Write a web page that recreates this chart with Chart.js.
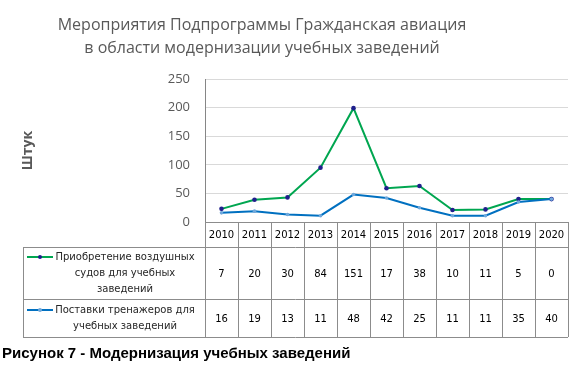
<!DOCTYPE html>
<html>
<head>
<meta charset="utf-8">
<script src="https://cdn.jsdelivr.net/npm/chart.js@4.4.0/dist/chart.umd.min.js"></script>
<style>
  html, body { margin: 0; padding: 0; background: #fff; }
  #wrap { width: 584px; height: 373px; }
</style>
</head>
<body>
<div id="wrap"><canvas id="chart" width="584" height="373"></canvas></div>
<script>
// данные
const years = ["2010", "2011", "2012", "2013", "2014", "2015", "2016", "2017", "2018", "2019", "2020"];
const aircraft = [7, 20, 30, 84, 151, 17, 38, 10, 11, 5, 0];
const simulators = [16, 19, 13, 11, 48, 42, 25, 11, 11, 35, 40];
const seriesNames = [
  "Приобретение воздушных судов для учебных заведений",
  "Поставки тренажеров для учебных заведений",
];
const yTicks = [0, 50, 100, 150, 200, 250];
const titleLines = [
  "Мероприятия Подпрограммы Гражданская авиация",
  "в области модернизации учебных заведений",
];
const caption = "Рисунок 7 - Модернизация учебных заведений";

const GREEN = "#00a650";
const BLUE = "#0070c0";
const GRID_LINE = "#8c8c8c";

function wrapText(ctx, text, maxW) {
  const words = text.split(" ");
  const lines = [];
  let cur = "";
  words.forEach(function (w) {
    const test = cur ? cur + " " + w : w;
    if (ctx.measureText(test).width > maxW && cur) {
      lines.push(cur);
      cur = w;
    } else {
      cur = test;
    }
  });
  if (cur) lines.push(cur);
  return lines;
}

// заголовок, таблица данных и подпись
const dataTable = {
  id: "dataTable",
  afterDraw(chart) {
    const ctx = chart.ctx;
    const x = chart.scales.x;
    const area = chart.chartArea;
    const step = x.getPixelForValue(1) - x.getPixelForValue(0);
    const left = 23;
    const colL = area.left;
    const colR = x.getPixelForValue(years.length - 1) + step / 2;
    const rows = [area.bottom, area.bottom + 25, area.bottom + 77, area.bottom + 115];
    const rowSeries = [
      { name: seriesNames[0], values: aircraft, color: GREEN, mark: "#1f1f8c" },
      { name: seriesNames[1], values: simulators, color: BLUE, mark: "#6fa8dc" },
    ];

    ctx.save();
    // заголовок
    ctx.textAlign = "center";
    ctx.textBaseline = "middle";
    ctx.fillStyle = "#595959";
    ctx.font = "16px 'Open Sans'";
    titleLines.forEach(function (t, i) {
      ctx.fillText(t, 262, 25 + i * 23);
    });

    ctx.strokeStyle = GRID_LINE;
    ctx.lineWidth = 1;
    ctx.beginPath();
    // горизонтальные
    ctx.moveTo(colL, rows[0] + 0.5); ctx.lineTo(colR, rows[0] + 0.5);
    for (let i = 1; i < rows.length; i++) {
      ctx.moveTo(left, rows[i] + 0.5); ctx.lineTo(colR, rows[i] + 0.5);
    }
    // вертикальные
    ctx.moveTo(left + 0.5, rows[1]); ctx.lineTo(left + 0.5, rows[3]);
    for (let i = 0; i <= years.length; i++) {
      const px = Math.round(colL + i * step) + 0.5;
      ctx.moveTo(px, rows[0]); ctx.lineTo(px, rows[3]);
    }
    ctx.stroke();

    ctx.font = "10px 'DejaVu Sans'";
    ctx.fillStyle = "#000";
    years.forEach(function (y, i) {
      ctx.fillText(y, x.getPixelForValue(i), (rows[0] + rows[1]) / 2 + 1);
    });

    rowSeries.forEach(function (s, r) {
      const top = rows[r + 1], bot = rows[r + 2];
      const mid = (top + bot) / 2;
      ctx.font = "10px 'DejaVu Sans'";
      ctx.fillStyle = "#262626";
      const lines = wrapText(ctx, s.name, 150);
      const lh = 16;
      const y0 = mid - (lines.length - 1) * lh / 2;
      lines.forEach(function (ln, k) {
        ctx.fillText(ln, 125, y0 + k * lh);
      });
      // образец линии
      ctx.strokeStyle = s.color;
      ctx.lineWidth = 2;
      ctx.beginPath();
      ctx.moveTo(27, y0); ctx.lineTo(53, y0);
      ctx.stroke();
      ctx.fillStyle = s.mark;
      ctx.beginPath();
      ctx.arc(40, y0, 2, 0, Math.PI * 2);
      ctx.fill();
      // значения
      ctx.fillStyle = "#000";
      s.values.forEach(function (v, i) {
        ctx.fillText(String(v), x.getPixelForValue(i), mid + 1);
      });
    });

    // подпись рисунка
    ctx.textAlign = "left";
    ctx.font = "bold 15px 'Liberation Sans'";
    ctx.fillStyle = "#000";
    ctx.fillText(caption, 2, 354);
    ctx.restore();
  },
};

let context = document.querySelector("#chart").getContext("2d");
new Chart(context, {
  type: "line",
  data: {
    labels: years,
    datasets: [
      {
        label: seriesNames[1],
        data: simulators,
        borderColor: BLUE,
        backgroundColor: "#6fa8dc",
        borderWidth: 2,
        pointRadius: 1.8,
        pointBorderWidth: 0,
        tension: 0,
      },
      {
        label: seriesNames[0],
        data: aircraft,
        borderColor: GREEN,
        backgroundColor: "#1f1f8c",
        borderWidth: 2,
        pointRadius: 2.3,
        pointBorderWidth: 0,
        tension: 0,
      },
    ],
  },
  options: {
    responsive: false,
    animation: false,
    layout: {
      padding: { left: 0, right: 16, top: 79, bottom: 151 },
    },
    scales: {
      x: {
        display: false,
        offset: true,
      },
      y: {
        stacked: true,
        min: 0,
        max: 250,
        afterBuildTicks: function (scale) {
          scale.ticks = yTicks.map(function (v) { return { value: v }; });
        },
        afterFit: function (scale) {
          scale.width = 205;
        },
        ticks: {
          padding: 15,
          color: "#595959",
          font: { family: "'Open Sans'", size: 13 },
        },
        grid: {
          color: function (c) { return c.tick && c.tick.value === 0 ? "rgba(0,0,0,0)" : "#d9d9d9"; },
          drawTicks: false,
        },
        border: { color: "#868686" },
        title: {
          display: true,
          text: "Штук",
          color: "#595959",
          font: { family: "'Open Sans'", size: 14, weight: "bold" },
          padding: { top: 20, bottom: 0 },
        },
      },
    },
    plugins: {
      legend: { display: false },
      tooltip: { enabled: false },
    },
  },
  plugins: [dataTable],
});
</script>
</body>
</html>
